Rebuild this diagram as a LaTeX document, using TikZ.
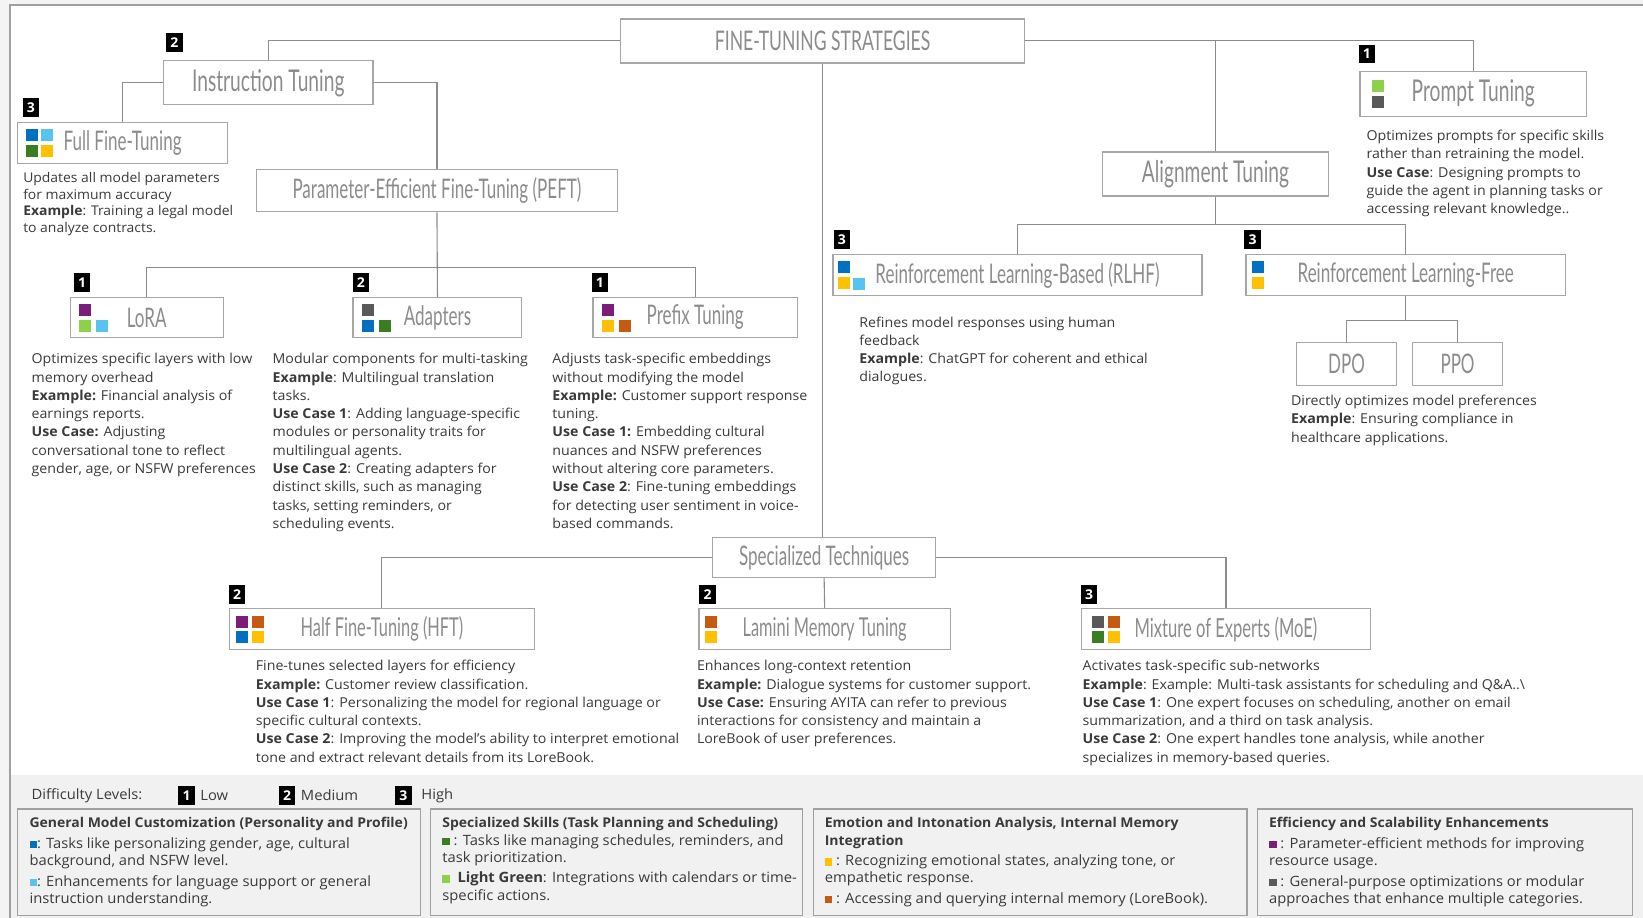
\documentclass[tikz,border=0pt]{standalone}
\usepackage{fontspec}
\setmainfont[FakeStretch=1.04]{Open Sans}
\newfontfamily\condfont[FakeStretch=0.63]{Lato}
\newfontfamily\bigcondfont[FakeStretch=0.64]{Lato}
\newfontfamily\capsfont[FakeStretch=0.65]{Lato}
\usetikzlibrary{calc}
\definecolor{dblue}{HTML}{0070C0}
\definecolor{lblue}{HTML}{56C4EE}
\definecolor{dgreen}{HTML}{3B7D23}
\definecolor{yellowc}{HTML}{FFC000}
\definecolor{purplec}{HTML}{7B1E7A}
\definecolor{lgreen}{HTML}{8DD14A}
\definecolor{dgray}{HTML}{595959}
\definecolor{orangec}{HTML}{C55A11}
\definecolor{boxgray}{HTML}{A6A6A6}
\definecolor{linegray}{HTML}{8C8C8C}
\definecolor{titlegray}{HTML}{8C8C8C}
\definecolor{bodytext}{HTML}{3A3A3A}
\definecolor{outbg}{HTML}{F4F4F4}
\definecolor{legbg}{HTML}{F1F1F1}
\definecolor{framec}{HTML}{A0A0A0}
\newcommand\lsq[1]{\textcolor{#1}{\rule{7.5pt}{7.5pt}}}
\newcommand\isq[4]{\fill[#1] ($(#2.west)+(#3,#4)$) rectangle ++(11.5,11.5);}
\newcommand\lhead[1]{{\fontsize{13.45}{17.4}\selectfont\bfseries #1}}
\tikzset{
  tbox/.style={draw=boxgray, line width=1.3pt, fill=white, inner sep=0pt},
  ttl/.style={font=\condfont\fontsize{27}{27}\selectfont, text=titlegray, inner sep=0pt},
  bigttl/.style={ttl, font=\bigcondfont\fontsize{30}{30}\selectfont},
  conn/.style={draw=linegray, line width=1.1pt},
  desc/.style={anchor=north west, align=left, inner sep=0pt, font=\fontsize{13.65}{18.3}\selectfont, text=bodytext},
  badgest/.style={fill=black, text=white, font=\bfseries\fontsize{13.5}{13.5}\selectfont, minimum width=16.5pt, minimum height=18.5pt, inner sep=0pt},
  legbox/.style={draw=framec, line width=1.2pt, fill=legbg, inner sep=0pt, minimum height=106.9pt},
  legtext/.style={anchor=north west, align=left, inner sep=0pt, font=\fontsize{14.2}{17.4}\selectfont, text=bodytext},
  lvl/.style={anchor=west, inner sep=0pt, font=\fontsize{14.2}{15}\selectfont, text=bodytext}
}
\begin{document}
\begin{tikzpicture}[x=1.0478pt,y=-1.0478pt]
\useasboundingbox (0,0) rectangle (1568,876);
\fill[outbg] (0,0) rectangle (1568,876);
\fill[white] (9.5,4.8) rectangle (1568,740);
\fill[legbg] (9.5,740) rectangle (1568,876);
\draw[framec, line width=1.2pt] (1568,4.8) -- (9.5,4.8) -- (9.5,876);

% ---------- boxes ----------
\node[tbox, minimum width=404.4pt, minimum height=44pt] (fts) at (785,39) {};
\node[tbox, minimum width=209.6pt, minimum height=44pt] (it) at (256,79) {};
\node[tbox, minimum width=209.6pt, minimum height=40.9pt] (fft) at (117,136.5) {};
\node[tbox, minimum width=360.4pt, minimum height=41.9pt] (peft) at (417,182) {};
\node[tbox, minimum width=153pt, minimum height=39.8pt] (lora) at (140,303) {};
\node[tbox, minimum width=168.7pt, minimum height=39.8pt] (adapters) at (417.5,303) {};
\node[tbox, minimum width=204.3pt, minimum height=39.8pt] (prefix) at (663.5,303) {};
\node[tbox, minimum width=226.3pt, minimum height=45pt] (prompt) at (1406,89.5) {};
\node[tbox, minimum width=226.3pt, minimum height=44pt] (at) at (1160,166) {};
\node[tbox, minimum width=368.8pt, minimum height=40.9pt] (rlhf) at (971,262.5) {};
\node[tbox, minimum width=319.6pt, minimum height=40.9pt] (rlf) at (1341.5,262.5) {};
\node[tbox, minimum width=100.6pt, minimum height=43pt] (dpo) at (1285,347.5) {};
\node[tbox, minimum width=90.1pt, minimum height=43pt] (ppo) at (1391,347.5) {};
\node[tbox, minimum width=223.2pt, minimum height=39.8pt] (st) at (786.5,532) {};
\node[tbox, minimum width=304.9pt, minimum height=40.9pt] (hft) at (364.5,600.5) {};
\node[tbox, minimum width=251.5pt, minimum height=40.9pt] (lamini) at (787,600.5) {};
\node[tbox, minimum width=289.2pt, minimum height=40.9pt] (moe) at (1170,600.5) {};

% ---------- titles ----------
\node[ttl, font=\capsfont\fontsize{27}{27}\selectfont] (tfts) at (fts.center) {FINE-TUNING STRATEGIES};
\node[bigttl] (tit) at (it.center) {Instruction Tuning};
\node[ttl] (tfft) at (fft.center) {Full Fine-Tuning};
\node[ttl] (tpeft) at (peft.center) {Parameter-Efficient Fine-Tuning (PEFT)};
\node[ttl] (tlora) at (lora.center) {LoRA};
\node[ttl] (tad) at (adapters.center) {Adapters};
\node[ttl] (tpre) at (prefix.center) {Prefix Tuning};
\node[bigttl] (tpro) at (prompt.center) {Prompt Tuning};
\node[bigttl] (tat) at (at.center) {Alignment Tuning};
\node[ttl] (trlhf) at (rlhf.center) {Reinforcement Learning-Based (RLHF)};
\node[ttl] (trlf) at (rlf.center) {Reinforcement Learning-Free};
\node[ttl] (tdpo) at (dpo.center) {DPO};
\node[ttl] (tppo) at (ppo.center) {PPO};
\node[ttl] (tst) at (st.center) {Specialized Techniques};
\node[ttl, font=\condfont\fontsize{26}{26}\selectfont] (thft) at (hft.center) {Half Fine-Tuning (HFT)};
\node[ttl, font=\condfont\fontsize{26}{26}\selectfont] (tlam) at (lamini.center) {Lamini Memory Tuning};
\node[ttl, font=\condfont\fontsize{26.3}{26}\selectfont] (tmoe) at (moe.center) {Mixture of Experts (MoE)};

% ---------- connectors ----------
\draw[conn] (fts.west) -| (it.north);
\draw[conn] (it.west) -| (fft.north);
\draw[conn] (it.east) -| (peft.north);
\coordinate (pj) at (417,255);
\draw[conn] (peft.south) -- (adapters.north);
\draw[conn] (lora.north) |- (pj) -| (prefix.north);
\draw[conn] (fts.south) -- (fts.south |- st.north);
\draw[conn] (fts.east) -| (prompt.north);
\draw[conn] (at.north |- fts.east) -- (at.north);
\coordinate (aj) at (1160,214);
\draw[conn] (at.south) -- (aj);
\draw[conn] (rlhf.north) |- (aj) -| (rlf.north);
\coordinate (rj) at (1341.5,306);
\draw[conn] (rlf.south) -- (rj);
\draw[conn] (dpo.north) |- (rj) -| (ppo.north);
\draw[conn] (st.west) -| (hft.north);
\draw[conn] (st.east) -| (moe.north);
\draw[conn] (st.south) -- (lamini.north);

% ---------- badges ----------
\node[badgest] (bit) at ($(it.north west)+(11,-17)$) {2};
\node[badgest] (bfft) at ($(fft.north west)+(13,-14)$) {3};
\node[badgest] (blora) at ($(lora.north west)+(12,-14)$) {1};
\node[badgest] (bad) at ($(adapters.north west)+(8,-14)$) {2};
\node[badgest] (bpre) at ($(prefix.north west)+(7,-14)$) {1};
\node[badgest] (bpro) at ($(prompt.north west)+(7,-16)$) {1};
\node[badgest] (brlhf) at ($(rlhf.north west)+(9,-14)$) {3};
\node[badgest] (brlf) at ($(rlf.north west)+(7,-14)$) {3};
\node[badgest] (bhft) at ($(hft.north west)+(8,-13)$) {2};
\node[badgest] (blam) at ($(lamini.north west)+(9,-13)$) {2};
\node[badgest] (bmoe) at ($(moe.north west)+(8,-13)$) {3};

% ---------- icons ----------
\isq{dblue}{fft}{8}{-13} \isq{lblue}{fft}{23}{-13} \isq{dgreen}{fft}{8}{2} \isq{yellowc}{fft}{23}{2}
\isq{lgreen}{prompt}{12}{-13} \isq{dgray}{prompt}{12}{2}
\isq{purplec}{lora}{9}{-13} \isq{lgreen}{lora}{9}{2} \isq{lblue}{lora}{25}{2}
\isq{dgray}{adapters}{9}{-13} \isq{dblue}{adapters}{9}{2} \isq{dgreen}{adapters}{25}{2}
\isq{purplec}{prefix}{9}{-13} \isq{yellowc}{prefix}{9}{2} \isq{orangec}{prefix}{25}{2}
\isq{dblue}{rlhf}{5}{-13} \isq{yellowc}{rlhf}{5}{2} \isq{lblue}{rlhf}{20}{3}
\isq{dblue}{rlf}{6}{-13} \isq{yellowc}{rlf}{6}{2}
\isq{purplec}{hft}{7}{-13} \isq{orangec}{hft}{22}{-13} \isq{dblue}{hft}{7}{2} \isq{yellowc}{hft}{22}{2}
\isq{orangec}{lamini}{6}{-13} \isq{yellowc}{lamini}{6}{2}
\isq{dgray}{moe}{11}{-13} \isq{orangec}{moe}{26}{-13} \isq{dgreen}{moe}{11}{2} \isq{yellowc}{moe}{26}{2}

% ---------- descriptions ----------
\node[desc, font=\fontsize{13.4}{16.8}\selectfont] (dfft) at (22,164) {Updates all model parameters\\ for maximum accuracy\\ \textbf{Example}: Training a legal model\\ to analyze contracts.};
\node[desc] (dpro) at (1304,124) {Optimizes prompts for specific skills\\ rather than retraining the model.\\ \textbf{Use Case}: Designing prompts to\\ guide the agent in planning tasks or\\ accessing relevant knowledge..};
\node[desc] (dlora) at (30,337) {Optimizes specific layers with low\\ memory overhead\\ \textbf{Example:} Financial analysis of\\ earnings reports.\\ \textbf{Use Case:} Adjusting\\ conversational tone to reflect\\ gender, age, or NSFW preferences};
\node[desc] (dad) at (260,337) {Modular components for multi-tasking\\ \textbf{Example}: Multilingual translation\\ tasks.\\ \textbf{Use Case 1}: Adding language-specific\\ modules or personality traits for\\ multilingual agents.\\ \textbf{Use Case 2}: Creating adapters for\\ distinct skills, such as managing\\ tasks, setting reminders, or\\ scheduling events.};
\node[desc] (dpre) at (527,337) {Adjusts task-specific embeddings\\ without modifying the model\\ \textbf{Example:} Customer support response\\ tuning.\\ \textbf{Use Case 1:} Embedding cultural\\ nuances and NSFW preferences\\ without altering core parameters.\\ \textbf{Use Case 2}: Fine-tuning embeddings\\ for detecting user sentiment in voice-\\ based commands.};
\node[desc] (drlhf) at (820,302) {Refines model responses using human\\ feedback\\ \textbf{Example}: ChatGPT for coherent and ethical\\ dialogues.};
\node[desc] (ddpo) at (1232,377) {Directly optimizes model preferences\\ \textbf{Example}: Ensuring compliance in\\ healthcare applications.};
\node[desc] (dhft) at (244,630) {Fine-tunes selected layers for efficiency\\ \textbf{Example:} Customer review classification.\\ \textbf{Use Case 1}: Personalizing the model for regional language or\\ specific cultural contexts.\\ \textbf{Use Case 2}: Improving the model's ability to interpret emotional\\ tone and extract relevant details from its LoreBook.};
\node[desc] (dlam) at (665,630) {Enhances long-context retention\\ \textbf{Example:} Dialogue systems for customer support.\\ \textbf{Use Case:} Ensuring AYITA can refer to previous\\ interactions for consistency and maintain a\\ LoreBook of user preferences.};
\node[desc] (dmoe) at (1033,630) {Activates task-specific sub-networks\\ \textbf{Example}: Example: Multi-task assistants for scheduling and Q\&A..\textbackslash\\ \textbf{Use Case 1}: One expert focuses on scheduling, another on email\\ summarization, and a third on task analysis.\\ \textbf{Use Case 2}: One expert handles tone analysis, while another\\ specializes in memory-based queries.};

% ---------- legend ----------
\node[lvl] (dl) at (30,759) {Difficulty Levels:};
\node[badgest] (lb1) at (178,759) {1};
\node[lvl] (ll1) at (191,759) {Low};
\node[badgest] (lb2) at (274,759) {2};
\node[lvl] (ll2) at (287,759) {Medium};
\node[badgest] (lb3) at (385,759) {3};
\node[lvl] (ll3) at (402,759) {High};

\node[legbox, minimum width=402.4pt] (lg1) at (209,823) {};
\node[legbox, minimum width=372pt] (lg2) at (588.5,823) {};
\node[legbox, minimum width=433.8pt] (lg3) at (983,823) {};
\node[legbox, minimum width=375.1pt] (lg4) at (1379,823) {};

\node[legtext] (lt1) at (28,780) {\lhead{General Model Customization (Personality and Profile)}\\[3pt]
\lsq{dblue}: Tasks like personalizing gender, age, cultural\\ background, and NSFW level.\\[3pt]
\lsq{lblue}: Enhancements for language support or general\\ instruction understanding.};
\node[legtext] (lt2) at (422,780) {\lhead{Specialized Skills (Task Planning and Scheduling)}\\
\lsq{dgreen} : Tasks like managing schedules, reminders, and\\ task prioritization.\\[3pt]
\lsq{lgreen}\ \ \textbf{Light Green}: Integrations with calendars or time-\\ specific actions.};
\node[legtext] (lt3) at (787,780) {\lhead{Emotion and Intonation Analysis, Internal Memory}\\ \lhead{Integration}\\[3pt]
\lsq{yellowc} : Recognizing emotional states, analyzing tone, or\\ empathetic response.\\[3pt]
\lsq{orangec} : Accessing and querying internal memory (LoreBook).};
\node[legtext] (lt4) at (1211,780) {\lhead{Efficiency and Scalability Enhancements}\\[3pt]
\lsq{purplec} : Parameter-efficient methods for improving\\ resource usage.\\[3pt]
\lsq{dgray} : General-purpose optimizations or modular\\ approaches that enhance multiple categories.};
\end{tikzpicture}
\end{document}
